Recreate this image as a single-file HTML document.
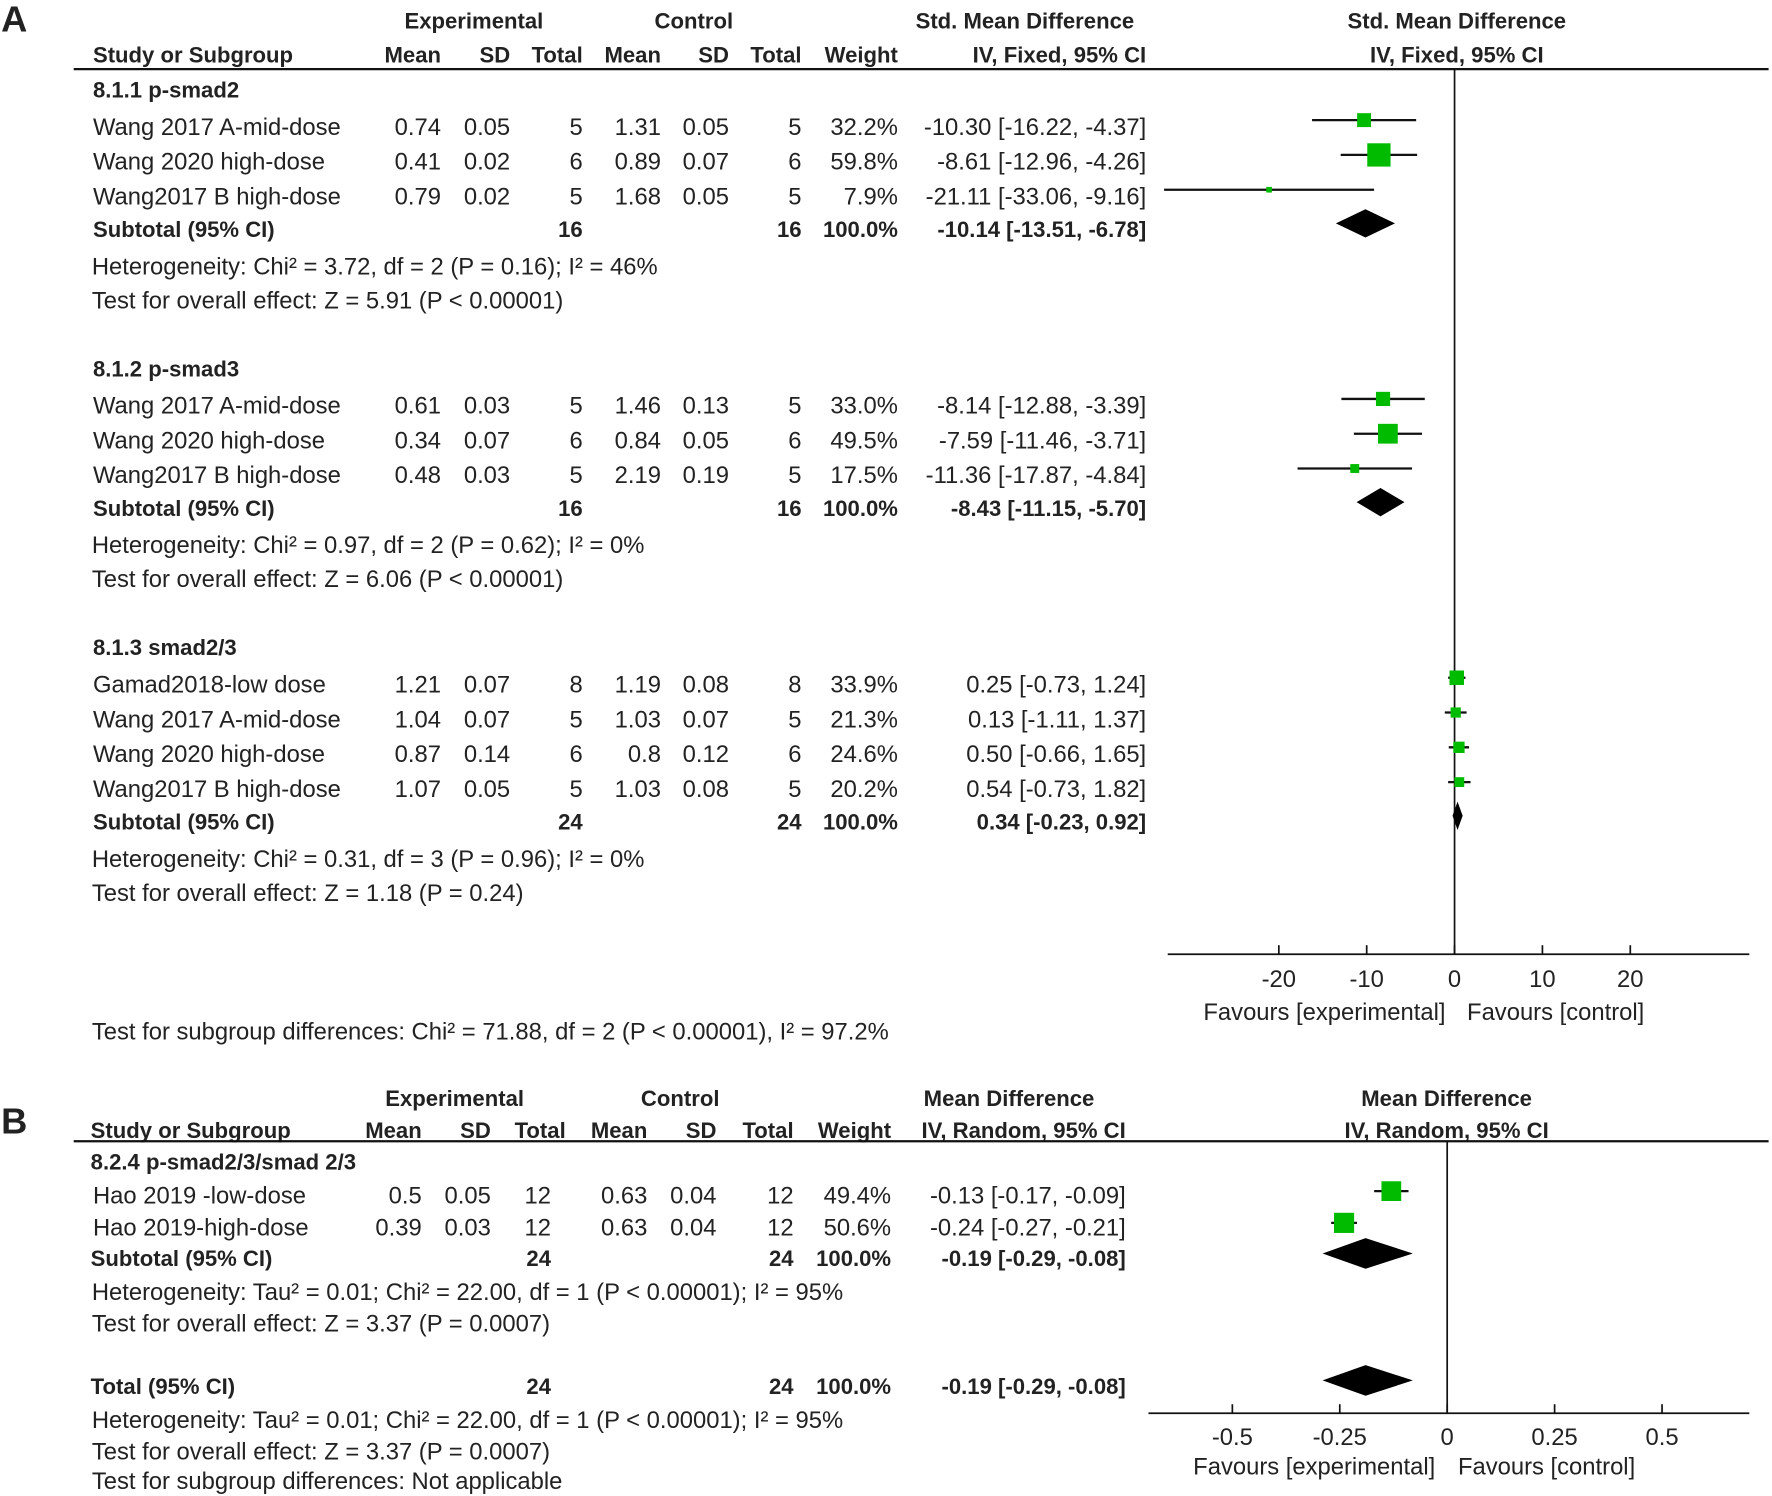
<!DOCTYPE html>
<html><head><meta charset="utf-8"><style>
html,body{margin:0;padding:0;background:#fff;}
svg{display:block;}
text{font-family:"Liberation Sans",Arial,sans-serif;fill:#222;}
</style></head><body>
<svg id="fig" width="1772" height="1496" viewBox="0 0 1563 1320" preserveAspectRatio="none" xmlns="http://www.w3.org/2000/svg"></svg>
<script>
// ---------- Panel A data ----------
const aGroups = ["8.1.1 p-smad2","8.1.2 p-smad3","8.1.3 smad2/3"];
const aStudies = [
 ["Wang 2017 A-mid-dose","Wang 2020 high-dose","Wang2017 B high-dose"],
 ["Wang 2017 A-mid-dose","Wang 2020 high-dose","Wang2017 B high-dose"],
 ["Gamad2018-low dose","Wang 2017 A-mid-dose","Wang 2020 high-dose","Wang2017 B high-dose"]];
const aExpMean = [["0.74","0.41","0.79"],["0.61","0.34","0.48"],["1.21","1.04","0.87","1.07"]];
const aExpSD = [["0.05","0.02","0.02"],["0.03","0.07","0.03"],["0.07","0.07","0.14","0.05"]];
const aExpN = [[5,6,5],[5,6,5],[8,5,6,5]];
const aCtlMean = [["1.31","0.89","1.68"],["1.46","0.84","2.19"],["1.19","1.03","0.8","1.03"]];
const aCtlSD = [["0.05","0.07","0.05"],["0.13","0.05","0.19"],["0.08","0.07","0.12","0.08"]];
const aCtlN = [[5,6,5],[5,6,5],[8,5,6,5]];
const aWeight = [[32.2,59.8,7.9],[33.0,49.5,17.5],[33.9,21.3,24.6,20.2]];
const aEst = [[-10.30,-8.61,-21.11],[-8.14,-7.59,-11.36],[0.25,0.13,0.50,0.54]];
const aLo = [[-16.22,-12.96,-33.06],[-12.88,-11.46,-17.87],[-0.73,-1.11,-0.66,-0.73]];
const aHi = [[-4.37,-4.26,-9.16],[-3.39,-3.71,-4.84],[1.24,1.37,1.65,1.82]];
const aSubEst = [-10.14,-8.43,0.34];
const aSubLo = [-13.51,-11.15,-0.23];
const aSubHi = [-6.78,-5.70,0.92];
const aSubN = [16,16,24];
const aHet = ["Heterogeneity: Chi² = 3.72, df = 2 (P = 0.16); I² = 46%","Heterogeneity: Chi² = 0.97, df = 2 (P = 0.62); I² = 0%","Heterogeneity: Chi² = 0.31, df = 3 (P = 0.96); I² = 0%"];
const aTest = ["Test for overall effect: Z = 5.91 (P < 0.00001)","Test for overall effect: Z = 6.06 (P < 0.00001)","Test for overall effect: Z = 1.18 (P = 0.24)"];
const aTicks = [-20,-10,0,10,20];
// ---------- Panel B data ----------
const bStudies = ["Hao 2019 -low-dose","Hao 2019-high-dose"];
const bExpMean = ["0.5","0.39"], bExpSD = ["0.05","0.03"], bExpN = [12,12];
const bCtlMean = ["0.63","0.63"], bCtlSD = ["0.04","0.04"], bCtlN = [12,12];
const bWeight = [49.4,50.6];
const bEst = [-0.13,-0.24], bLo = [-0.17,-0.27], bHi = [-0.09,-0.21];
const bSub = [-0.19,-0.29,-0.08];
const bTotal = [-0.19,-0.29,-0.08];
const bTicks = [-0.5,-0.25,0,0.25,0.5];

const svg = document.getElementById('fig');
const NS = "http://www.w3.org/2000/svg";
function txt(x,y,s,anchor,bold,name,size){
  const t = document.createElementNS(NS,'text');
  t.setAttribute('x',x); t.setAttribute('y',y);
  t.setAttribute('font-size',size||(bold?19.5:21));
  if(anchor) t.setAttribute('text-anchor',anchor);
  if(bold){ t.setAttribute('font-weight','bold'); t.setAttribute('fill','#333'); }
  t.textContent = s;
  
  
  svg.appendChild(t); return t;
}
function line(x1,y1,x2,y2,w,name){
  const l = document.createElementNS(NS,'line');
  l.setAttribute('x1',x1);l.setAttribute('y1',y1);l.setAttribute('x2',x2);l.setAttribute('y2',y2);
  l.setAttribute('stroke','#111');l.setAttribute('stroke-width',w||2);
  
  
  svg.appendChild(l); return l;
}
function square(cx,cy,s,name){
  const r = document.createElementNS(NS,'rect');
  r.setAttribute('x',cx-s/2);r.setAttribute('y',cy-s/2);r.setAttribute('width',s);r.setAttribute('height',s);
  r.setAttribute('fill','#00bb00');
  
  
  svg.appendChild(r);
}
function diamond(xl,xc,xr,cy,h,name){
  const p = document.createElementNS(NS,'polygon');
  p.setAttribute('points',`${xl},${cy} ${xc},${cy-h/2} ${xr},${cy} ${xc},${cy+h/2}`);
  p.setAttribute('fill','#000');
  
  
  svg.appendChild(p);
}
const fmt = v => v.toFixed(2);
const ciStr = (e,l,h) => `${fmt(e)} [${fmt(l)}, ${fmt(h)}]`;

// ---------- Panel A ----------
const ax = v => 1283 + v*7.75;
txt(1,28,"A","start",true,"panel-a-label",32).setAttribute('fill','#000');
txt(418,25,"Experimental","middle",true,"experimental-header");
txt(612,25,"Control","middle",true,"control-header");
txt(904,25,"Std. Mean Difference","middle",true,"effect-header");
txt(1285,25,"Std. Mean Difference","middle",true,"plot-header");
txt(82,55,"Study or Subgroup","start",true,"study-column-header");
[["Mean",389],["SD",450],["Total",514],["Mean",583],["SD",643],["Total",707],["Weight",792],["IV, Fixed, 95% CI",1011]].forEach(c=>txt(c[1],55,c[0],"end",true,"column-header"));
txt(1285,55,"IV, Fixed, 95% CI","middle",true,"plot-method-header");
line(65,61,1560,61,2,"header-rule");
line(ax(0),61,ax(0),842,1.5,"null-line");
line(1030,842,1543,842,1.5,"x-axis");
aTicks.forEach(t=>{ line(ax(t),834,ax(t),842,1.5,"x-tick"); txt(ax(t),871,String(t),"middle",false,"x-tick-label"); });
txt(1275,900,"Favours [experimental]","end",false,"favours-experimental");
txt(1294,900,"Favours [control]","start",false,"favours-control");
const gTop = [86,332,578];
aGroups.forEach((g,gi)=>{
  let y = gTop[gi];
  txt(82,y,g,"start",true,"subgroup-title");
  aStudies[gi].forEach((s,i)=>{
    const yy = y + 33 + i*30.7;
    txt(82,yy,s,"start",false,"study-name");
    txt(389,yy,aExpMean[gi][i],"end",false,"exp-mean");
    txt(450,yy,aExpSD[gi][i],"end",false,"exp-sd");
    txt(514,yy,String(aExpN[gi][i]),"end",false,"exp-total");
    txt(583,yy,aCtlMean[gi][i],"end",false,"ctl-mean");
    txt(643,yy,aCtlSD[gi][i],"end",false,"ctl-sd");
    txt(707,yy,String(aCtlN[gi][i]),"end",false,"ctl-total");
    txt(792,yy,aWeight[gi][i].toFixed(1)+"%","end",false,"weight");
    txt(1011,yy,ciStr(aEst[gi][i],aLo[gi][i],aHi[gi][i]),"end",false,"effect-ci");
    const my = yy-13;
    line(ax(aLo[gi][i]),my,ax(aHi[gi][i]),my,2,"ci-whisker");
    square(ax(aEst[gi][i]),my,2.6+0.3*aWeight[gi][i],"study-marker");
  });
  const n = aStudies[gi].length;
  const sy = y + 33 + n*30.7 - 2;
  txt(82,sy,"Subtotal (95% CI)","start",true,"subtotal-label");
  txt(514,sy,String(aSubN[gi]),"end",true,"subtotal-exp-n");
  txt(707,sy,String(aSubN[gi]),"end",true,"subtotal-ctl-n");
  txt(792,sy,"100.0%","end",true,"subtotal-weight");
  txt(1011,sy,ciStr(aSubEst[gi],aSubLo[gi],aSubHi[gi]),"end",true,"subtotal-ci");
  diamond(ax(aSubLo[gi]),ax(aSubEst[gi]),ax(aSubHi[gi]),sy-12,25,"subtotal-diamond");
  txt(81,sy+33,aHet[gi],"start",false,"heterogeneity");
  txt(81,sy+63,aTest[gi],"start",false,"overall-effect");
});
txt(81,917,"Test for subgroup differences: Chi² = 71.88, df = 2 (P < 0.00001), I² = 97.2%","start",false,"subgroup-differences");

// ---------- Panel B ----------
const bx = v => 1276.5 + v*379;
txt(1,1000,"B","start",true,"panel-b-label",32).setAttribute('fill','#000');
txt(401,976,"Experimental","middle",true,"b-experimental-header");
txt(600,976,"Control","middle",true,"b-control-header");
txt(890,976,"Mean Difference","middle",true,"b-effect-header");
txt(1276,976,"Mean Difference","middle",true,"b-plot-header");
txt(80,1004,"Study or Subgroup","start",true,"b-study-column-header");
[["Mean",372],["SD",433],["Total",499],["Mean",571],["SD",632],["Total",700],["Weight",786],["IV, Random, 95% CI",993]].forEach(c=>txt(c[1],1004,c[0],"end",true,"b-column-header"));
txt(1276,1004,"IV, Random, 95% CI","middle",true,"b-plot-method-header");
line(65,1007,1560,1007,2,"b-header-rule");
line(bx(0),1007,bx(0),1247,1.5,"b-null-line");
line(1013,1247,1543,1247,1.5,"b-x-axis");
bTicks.forEach(t=>{ line(bx(t),1239,bx(t),1247,1.5,"b-x-tick"); txt(bx(t),1275,String(t),"middle",false,"b-x-tick-label"); });
txt(1266,1301,"Favours [experimental]","end",false,"b-favours-experimental");
txt(1286,1301,"Favours [control]","start",false,"b-favours-control");
txt(80,1032,"8.2.4 p-smad2/3/smad 2/3","start",true,"b-subgroup-title");
bStudies.forEach((s,i)=>{
  const yy = 1062 + i*28;
  txt(82,yy,s,"start",false,"b-study-name");
  txt(372,yy,bExpMean[i],"end",false,"b-exp-mean");
  txt(433,yy,bExpSD[i],"end",false,"b-exp-sd");
  txt(486,yy,String(bExpN[i]),"end",false,"b-exp-total");
  txt(571,yy,bCtlMean[i],"end",false,"b-ctl-mean");
  txt(632,yy,bCtlSD[i],"end",false,"b-ctl-sd");
  txt(700,yy,String(bCtlN[i]),"end",false,"b-ctl-total");
  txt(786,yy,bWeight[i].toFixed(1)+"%","end",false,"b-weight");
  txt(993,yy,ciStr(bEst[i],bLo[i],bHi[i]),"end",false,"b-effect-ci");
  const my = yy-11;
  line(bx(bLo[i]),my,bx(bHi[i]),my,2,"b-ci-whisker");
  square(bx(bEst[i]),my,2.6+0.3*bWeight[i],"b-study-marker");
});
txt(80,1117,"Subtotal (95% CI)","start",true,"b-subtotal-label");
txt(486,1117,"24","end",true,"b-subtotal-exp-n");
txt(700,1117,"24","end",true,"b-subtotal-ctl-n");
txt(786,1117,"100.0%","end",true,"b-subtotal-weight");
txt(993,1117,ciStr(bSub[0],bSub[1],bSub[2]),"end",true,"b-subtotal-ci");
diamond(bx(bSub[1]),bx(bSub[0]),bx(bSub[2]),1106,27,"b-subtotal-diamond");
txt(81,1147,"Heterogeneity: Tau² = 0.01; Chi² = 22.00, df = 1 (P < 0.00001); I² = 95%","start",false,"b-heterogeneity");
txt(81,1175,"Test for overall effect: Z = 3.37 (P = 0.0007)","start",false,"b-overall-effect");
txt(80,1230,"Total (95% CI)","start",true,"b-total-label");
txt(486,1230,"24","end",true,"b-total-exp-n");
txt(700,1230,"24","end",true,"b-total-ctl-n");
txt(786,1230,"100.0%","end",true,"b-total-weight");
txt(993,1230,ciStr(bTotal[0],bTotal[1],bTotal[2]),"end",true,"b-total-ci");
diamond(bx(bTotal[1]),bx(bTotal[0]),bx(bTotal[2]),1218,27,"b-total-diamond");
txt(81,1260,"Heterogeneity: Tau² = 0.01; Chi² = 22.00, df = 1 (P < 0.00001); I² = 95%","start",false,"b-total-heterogeneity");
txt(81,1288,"Test for overall effect: Z = 3.37 (P = 0.0007)","start",false,"b-total-overall-effect");
txt(81,1314,"Test for subgroup differences: Not applicable","start",false,"b-subgroup-differences");
</script>
</body></html>
